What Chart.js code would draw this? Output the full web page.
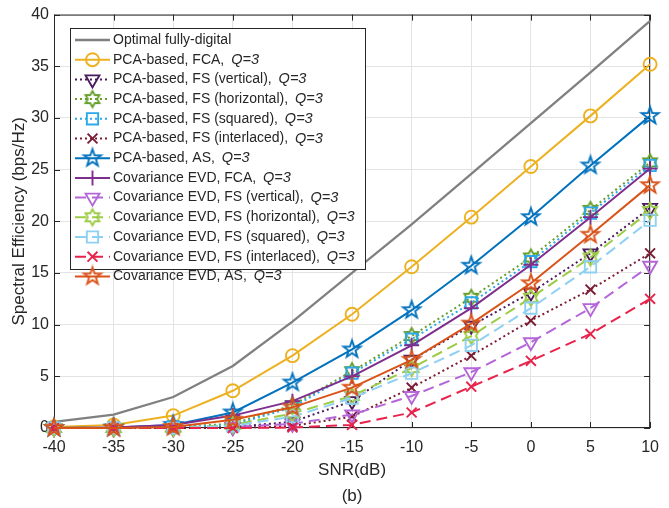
<!DOCTYPE html>
<html>
<head>
<meta charset="utf-8">
<script src="https://cdn.jsdelivr.net/npm/chart.js@4/dist/chart.umd.min.js"></script>
<style>
html, body { margin: 0; padding: 0; background: #fff; }
#wrap { width: 669px; height: 508px; }
</style>
</head>
<body>
<div id="wrap"><canvas id="chart" width="669" height="508"></canvas></div>
<script>
// SNR axis (dB)
const snr = [-40, -35, -30, -25, -20, -15, -10, -5, 0, 5, 10];
const yTicks = [0, 5, 10, 15, 20, 25, 30, 35, 40];

// spectral efficiency (bps/Hz)
const optimal = [0.6, 1.3, 3.0, 6.0, 10.3, 15.0, 19.7, 24.6, 29.5, 34.4, 39.4];
const pcaFca = [0.1, 0.3, 1.2, 3.6, 7.0, 11.0, 15.6, 20.4, 25.3, 30.2, 35.2];
const pcaFsVert = [0.0, 0.0, 0.0, 0.1, 0.6, 2.6, 6.6, 9.9, 13.1, 16.9, 21.3];
const pcaFsHorz = [0.0, 0.0, 0.1, 0.4, 2.2, 5.5, 8.9, 12.6, 16.5, 21.1, 25.7];
const pcaFsSq = [0.0, 0.0, 0.1, 0.3, 2.0, 5.3, 8.6, 12.1, 16.1, 20.8, 25.4];
const pcaFsInt = [0.0, 0.0, 0.0, 0.0, 0.2, 1.1, 3.9, 7.0, 10.4, 13.4, 16.9];
const pcaAs = [0.0, 0.05, 0.3, 1.5, 4.4, 7.6, 11.4, 15.7, 20.4, 25.4, 30.2];
const evdFca = [0.0, 0.05, 0.3, 1.2, 2.6, 5.0, 8.0, 11.6, 15.8, 20.4, 25.1];
const evdFsVert = [0.0, 0.0, 0.0, 0.1, 0.4, 1.3, 3.1, 5.4, 8.3, 11.6, 15.7];
const evdFsHorz = [0.0, 0.0, 0.0, 0.3, 1.4, 3.1, 5.8, 8.9, 12.6, 16.5, 21.0];
const evdFsSq = [0.0, 0.0, 0.0, 0.2, 1.1, 2.9, 5.3, 8.0, 11.6, 15.6, 20.1];
const evdFsInt = [0.0, 0.0, 0.0, 0.0, 0.05, 0.3, 1.5, 4.0, 6.5, 9.1, 12.5];
const evdAs = [0.0, 0.0, 0.1, 0.8, 2.0, 3.9, 6.6, 10.1, 14.0, 18.7, 23.5];

const FONT = '"Liberation Sans", Arial, sans-serif';
const TXT = '#262626';

// star shaped markers (pentagram / hexagram) drawn on small canvases
function starMarker(points, rOut, rIn, color, lw) {
    let s = Math.ceil(rOut * 2 + lw * 2 + 2);
    let cv = document.createElement('canvas');
    cv.width = s; cv.height = s;
    let g = cv.getContext('2d');
    g.translate(s / 2, s / 2);
    g.beginPath();
    for (let i = 0; i < points * 2; i++) {
        let r = i % 2 === 0 ? rOut : rIn;
        let a = -Math.PI / 2 + i * Math.PI / points;
        if (i === 0) g.moveTo(r * Math.cos(a), r * Math.sin(a));
        else g.lineTo(r * Math.cos(a), r * Math.sin(a));
    }
    g.closePath();
    g.strokeStyle = color;
    g.lineWidth = lw;
    g.lineJoin = 'miter';
    g.stroke();
    return cv;
}

const solid = [];
const dotted = [2, 3];
const dashed = [11, 6];

let series = [
    { name: 'Optimal fully-digital', q: false, data: optimal, color: '#808080', dash: solid, marker: false },
    { name: 'PCA-based, FCA, ', data: pcaFca, color: '#EDB120', dash: solid, marker: 'circle', r: 6.5 },
    { name: 'PCA-based, FS (vertical), ', data: pcaFsVert, color: '#4A1A5E', dash: dotted, marker: 'triangle', rot: 180, r: 8 },
    { name: 'PCA-based, FS (horizontal), ', data: pcaFsHorz, color: '#66A02A', dash: dotted, marker: 'hex' },
    { name: 'PCA-based, FS (squared), ', data: pcaFsSq, color: '#2AA8EA', dash: dotted, marker: 'rect', r: 8 },
    { name: 'PCA-based, FS (interlaced), ', data: pcaFsInt, color: '#7B1C33', dash: dotted, marker: 'crossRot', r: 7 },
    { name: 'PCA-based, AS, ', data: pcaAs, color: '#0072BD', dash: solid, marker: 'penta' },
    { name: 'Covariance EVD, FCA, ', data: evdFca, color: '#7E2F8E', dash: solid, marker: 'cross', r: 7.5 },
    { name: 'Covariance EVD, FS (vertical), ', data: evdFsVert, color: '#B466D8', dash: dashed, marker: 'triangle', rot: 180, r: 8 },
    { name: 'Covariance EVD, FS (horizontal), ', data: evdFsHorz, color: '#9CCB45', dash: dashed, marker: 'hex' },
    { name: 'Covariance EVD, FS (squared), ', data: evdFsSq, color: '#8ED0F2', dash: dashed, marker: 'rect', r: 8 },
    { name: 'Covariance EVD, FS (interlaced), ', data: evdFsInt, color: '#E8224A', dash: dashed, marker: 'crossRot', r: 7 },
    { name: 'Covariance EVD, AS, ', data: evdAs, color: '#D95319', dash: solid, marker: 'penta' }
];

series.forEach(s => {
    if (s.marker === 'penta') { s.style = starMarker(5, 9, 3.6, s.color, 1.9); s.r = 9; }
    else if (s.marker === 'hex') { s.style = starMarker(6, 8, 4.6, s.color, 1.9); s.r = 8; }
    else s.style = s.marker || 'circle';
});

let datasets = series.map((s, i) => ({
    label: s.name,
    data: snr.map((x, k) => ({ x: x, y: s.data[k] })),
    borderColor: s.color,
    borderWidth: s.marker ? 2 : 2.3,
    borderDash: s.dash,
    pointStyle: s.style,
    pointRotation: s.rot || 0,
    pointRadius: s.marker ? s.r : 0,
    pointHoverRadius: s.marker ? s.r : 0,
    pointBorderColor: s.color,
    pointBackgroundColor: 'rgba(0,0,0,0)',
    pointBorderWidth: 1.9,
    tension: 0,
    fill: false,
    clip: false,
    order: series.length - i
}));

// box, inward ticks, axis titles and the legend
const decorations = {
    id: 'decorations',
    beforeDatasetsDraw(chart) {
        let ctx = chart.ctx;
        let a = chart.chartArea;
        let xs = chart.scales.x, ys = chart.scales.y;
        ctx.save();
        ctx.strokeStyle = TXT;
        ctx.lineWidth = 1;
        ctx.strokeRect(a.left + 0.5, a.top + 0.5, a.right - a.left - 1, a.bottom - a.top - 1);
        ctx.beginPath();
        snr.forEach(v => {
            let px = Math.round(xs.getPixelForValue(v)) + 0.5;
            ctx.moveTo(px, a.bottom); ctx.lineTo(px, a.bottom - 6);
            ctx.moveTo(px, a.top); ctx.lineTo(px, a.top + 6);
        });
        yTicks.forEach(v => {
            let py = Math.round(ys.getPixelForValue(v)) + 0.5;
            ctx.moveTo(a.left, py); ctx.lineTo(a.left + 6, py);
            ctx.moveTo(a.right, py); ctx.lineTo(a.right - 6, py);
        });
        ctx.stroke();
        ctx.restore();
    },
    afterDraw(chart) {
        let ctx = chart.ctx;
        let a = chart.chartArea;
        ctx.save();
        ctx.fillStyle = TXT;
        ctx.textAlign = 'center';
        ctx.textBaseline = 'middle';
        ctx.font = '17px ' + FONT;
        ctx.fillText('SNR(dB)', (a.left + a.right) / 2, 470);
        ctx.fillText('(b)', (a.left + a.right) / 2, 496);
        ctx.translate(19, (a.top + a.bottom) / 2);
        ctx.rotate(-Math.PI / 2);
        ctx.fillText('Spectral Efficiency (bps/Hz)', 0, 0);
        ctx.restore();

        // legend
        let lx = 70, ly = 28, lw = 295, lh = 241;
        ctx.save();
        ctx.fillStyle = '#fff';
        ctx.fillRect(lx, ly, lw, lh);
        ctx.strokeStyle = TXT;
        ctx.lineWidth = 1;
        ctx.strokeRect(lx + 0.5, ly + 0.5, lw, lh);
        series.forEach((s, i) => {
            let y = 40 + i * 19.7;
            ctx.strokeStyle = s.color;
            ctx.lineWidth = s.marker ? 2 : 2.3;
            ctx.setLineDash(s.dash);
            ctx.beginPath();
            ctx.moveTo(75, y); ctx.lineTo(110, y);
            ctx.stroke();
            ctx.setLineDash([]);
            if (s.marker) {
                ctx.fillStyle = 'rgba(0,0,0,0)';
                ctx.lineWidth = 1.9;
                Chart.helpers.drawPoint(ctx, {
                    pointStyle: s.style, rotation: s.rot || 0, radius: s.r, borderWidth: 1.9
                }, 92.5, y);
            }
            ctx.fillStyle = TXT;
            ctx.textAlign = 'left';
            ctx.textBaseline = 'middle';
            ctx.font = '14px ' + FONT;
            ctx.fillText(s.name, 113, y);
            if (s.q !== false) {
                let w = ctx.measureText(s.name).width;
                ctx.font = 'italic 14.5px ' + FONT;
                ctx.fillText('Q=3', 116 + w, y);
            }
        });
        ctx.restore();
    }
};

new Chart(document.getElementById('chart'), {
    type: 'line',
    data: { datasets: datasets },
    options: {
        responsive: false,
        animation: false,
        devicePixelRatio: 1,
        layout: { padding: { top: 12, right: 7, left: 0, bottom: 0 } },
        plugins: { legend: { display: false }, tooltip: { enabled: false } },
        scales: {
            x: {
                type: 'linear',
                min: -40, max: 10,
                afterBuildTicks: s => { s.ticks = snr.map(v => ({ value: v })); },
                afterFit: s => { s.height = 80; },
                ticks: { color: TXT, font: { family: FONT, size: 16 }, padding: 10, maxRotation: 0 },
                grid: { color: '#E3E3E3', drawTicks: false },
                border: { display: false }
            },
            y: {
                type: 'linear',
                min: 0, max: 40,
                afterBuildTicks: s => { s.ticks = yTicks.map(v => ({ value: v })); },
                afterFit: s => { s.width = 54; },
                ticks: { color: TXT, font: { family: FONT, size: 16 }, padding: 5 },
                grid: { color: '#E3E3E3', drawTicks: false },
                border: { display: false }
            }
        }
    },
    plugins: [decorations]
});
</script>
</body>
</html>
